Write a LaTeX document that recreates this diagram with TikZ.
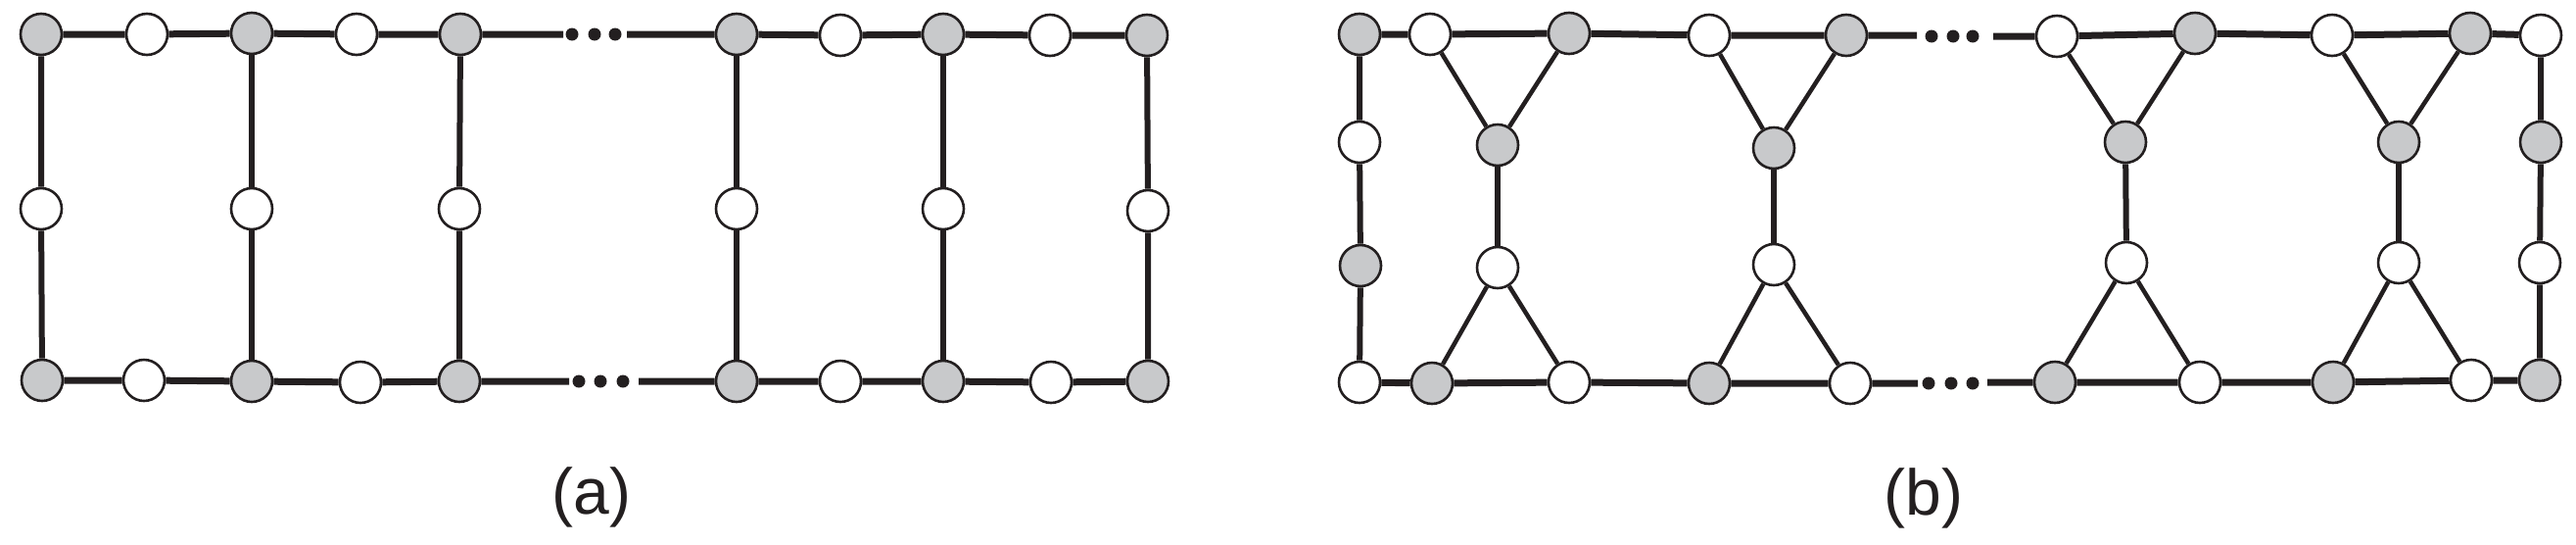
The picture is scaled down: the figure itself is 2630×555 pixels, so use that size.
\documentclass[tikz,border=0pt]{standalone}
\usepackage{fontspec}
\setmainfont{Liberation Sans}
\usetikzlibrary{backgrounds}
\definecolor{nodegray}{RGB}{200,201,203}
\definecolor{ink}{RGB}{35,31,32}
\tikzset{
  vg/.style={circle, draw=ink, line width=2.6pt, fill=nodegray, minimum size=42pt, inner sep=0pt},
  vw/.style={vg, fill=white},
  hedge/.style={draw=ink, line width=7pt},
  vedge/.style={draw=ink, line width=6pt},
  dedge/.style={draw=ink, line width=4.5pt},
  dotnode/.style={circle, fill=ink, minimum size=13pt, inner sep=0pt},
  lab/.style={font=\fontsize{66}{79}\selectfont, text=ink, inner sep=0pt}
}
\begin{document}
\begin{tikzpicture}[x=1pt,y=-1pt]
\useasboundingbox (0,0) rectangle (2630,555);
% ---------------- (a) ----------------
\node[vg] (at1) at (42,35) {};
\node[vw] (at2) at (150,35) {};
\node[vg] (at3) at (257,34) {};
\node[vw] (at4) at (364,35) {};
\node[vg] (at5) at (470,35) {};
\node[vg] (at6) at (752,35) {};
\node[vw] (at7) at (858,36) {};
\node[vg] (at8) at (963,35) {};
\node[vw] (at9) at (1072,36) {};
\node[vg] (at10) at (1171,36) {};
\node[vw] (am1) at (42,213) {};
\node[vw] (am3) at (257,213) {};
\node[vw] (am5) at (469,213) {};
\node[vw] (am6) at (752,213) {};
\node[vw] (am8) at (963,213) {};
\node[vw] (am10) at (1172,215) {};
\node[vg] (ab1) at (43,388) {};
\node[vw] (ab2) at (147,388) {};
\node[vg] (ab3) at (257,389) {};
\node[vw] (ab4) at (368,390) {};
\node[vg] (ab5) at (469,389) {};
\node[vg] (ab6) at (752,389) {};
\node[vw] (ab7) at (858,389) {};
\node[vg] (ab8) at (963,389) {};
\node[vw] (ab9) at (1073,390) {};
\node[vg] (ab10) at (1172,389) {};
\coordinate (atcut1) at (575,35);
\coordinate (atcut2) at (640,35);
\node[dotnode] (atd1) at (584,35) {};
\node[dotnode] (atd2) at (607,35) {};
\node[dotnode] (atd3) at (628,35) {};
\coordinate (abcut1) at (581,389);
\coordinate (abcut2) at (652,389);
\node[dotnode] (abd1) at (591,389) {};
\node[dotnode] (abd2) at (613,389) {};
\node[dotnode] (abd3) at (636,389) {};
\node[lab] (laba) at (604,507) {(a)};
% ---------------- (b) ----------------
\node[vg] (bt1) at (1388,35) {};
\node[vw] (bt2) at (1460,35) {};
\node[vg] (bt3) at (1602,34) {};
\node[vw] (bt4) at (1745,36) {};
\node[vg] (bt5) at (1885,36) {};
\node[vw] (bt6) at (2100,37) {};
\node[vg] (bt7) at (2241,34) {};
\node[vw] (bt8) at (2381,36) {};
\node[vg] (bt9) at (2522,34) {};
\node[vw] (bt10) at (2594,36) {};
\node[vw] (bl2) at (1388,145) {};
\node[vg] (bl3) at (1389,271) {};
\node[vg] (br2) at (2594,145) {};
\node[vw] (br3) at (2593,268) {};
\node[vg] (up1) at (1529,148) {};
\node[vg] (up2) at (1811,151) {};
\node[vg] (up3) at (2170,145) {};
\node[vg] (up4) at (2449,145) {};
\node[vw] (lo1) at (1529,273) {};
\node[vw] (lo2) at (1811,270) {};
\node[vw] (lo3) at (2171,268) {};
\node[vw] (lo4) at (2449,268) {};
\node[vw] (bb1) at (1388,390) {};
\node[vg] (bb2) at (1462,391) {};
\node[vw] (bb3) at (1602,390) {};
\node[vg] (bb4) at (1745,391) {};
\node[vw] (bb5) at (1889,391) {};
\node[vg] (bb6) at (2098,390) {};
\node[vw] (bb7) at (2246,390) {};
\node[vg] (bb8) at (2382,390) {};
\node[vw] (bb9) at (2523,388) {};
\node[vg] (bb10) at (2593,388) {};
\coordinate (btcut1) at (1957,36);
\coordinate (btcut2) at (2035,37);
\node[dotnode] (btd1) at (1972,37) {};
\node[dotnode] (btd2) at (1994,37) {};
\node[dotnode] (btd3) at (2014,37) {};
\coordinate (bbcut1) at (1958,391);
\coordinate (bbcut2) at (2029,390);
\node[dotnode] (bbd1) at (1969,391) {};
\node[dotnode] (bbd2) at (1992,391) {};
\node[dotnode] (bbd3) at (2014,391) {};
\node[lab] (labb) at (1964,508) {(b)};
% ---------------- edges ----------------
\begin{scope}[on background layer]
  % (a) rows
  \draw[hedge] (at1) -- (at2) -- (at3) -- (at4) -- (at5) -- (atcut1);
  \draw[hedge] (atcut2) -- (at6) -- (at7) -- (at8) -- (at9) -- (at10);
  \draw[hedge] (ab1) -- (ab2) -- (ab3) -- (ab4) -- (ab5) -- (abcut1);
  \draw[hedge] (abcut2) -- (ab6) -- (ab7) -- (ab8) -- (ab9) -- (ab10);
  % (a) columns
  \draw[vedge] (at1) -- (am1) -- (ab1);
  \draw[vedge] (at3) -- (am3) -- (ab3);
  \draw[vedge] (at5) -- (am5) -- (ab5);
  \draw[vedge] (at6) -- (am6) -- (ab6);
  \draw[vedge] (at8) -- (am8) -- (ab8);
  \draw[vedge] (at10) -- (am10) -- (ab10);
  % (b) rows
  \draw[hedge] (bt1) -- (bt2) -- (bt3) -- (bt4) -- (bt5) -- (btcut1);
  \draw[hedge] (btcut2) -- (bt6) -- (bt7) -- (bt8) -- (bt9) -- (bt10);
  \draw[hedge] (bb1) -- (bb2) -- (bb3) -- (bb4) -- (bb5) -- (bbcut1);
  \draw[hedge] (bbcut2) -- (bb6) -- (bb7) -- (bb8) -- (bb9) -- (bb10);
  % (b) outer columns
  \draw[vedge] (bt1) -- (bl2) -- (bl3) -- (bb1);
  \draw[vedge] (bt10) -- (br2) -- (br3) -- (bb10);
  % (b) bow-ties
  \draw[dedge] (bt2) -- (up1) -- (bt3);
  \draw[dedge] (bt4) -- (up2) -- (bt5);
  \draw[dedge] (bt6) -- (up3) -- (bt7);
  \draw[dedge] (bt8) -- (up4) -- (bt9);
  \draw[vedge] (up1) -- (lo1);
  \draw[vedge] (up2) -- (lo2);
  \draw[vedge] (up3) -- (lo3);
  \draw[vedge] (up4) -- (lo4);
  \draw[dedge] (bb2) -- (lo1) -- (bb3);
  \draw[dedge] (bb4) -- (lo2) -- (bb5);
  \draw[dedge] (bb6) -- (lo3) -- (bb7);
  \draw[dedge] (bb8) -- (lo4) -- (bb9);
\end{scope}
\end{tikzpicture}
\end{document}
